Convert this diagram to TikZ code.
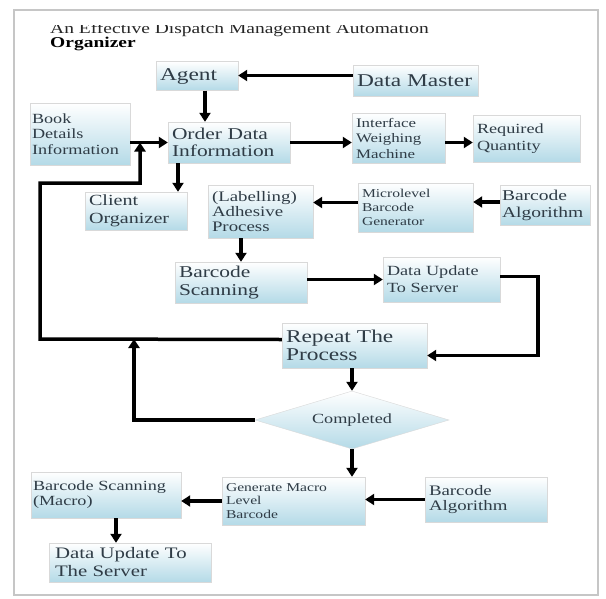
\documentclass[tikz,border=0pt]{standalone}
\usepackage{fontspec}
\setmainfont{Liberation Serif}[FakeStretch=1.3]
\usepackage{xcolor}
\usepackage{tikz}
\usetikzlibrary{arrows.meta,positioning,calc}
\usetikzlibrary{shapes.geometric}

\definecolor{boxblue}{RGB}{180,218,231}
\definecolor{boxtext}{RGB}{47,60,70}
\newcommand{\fsz}[2]{\fontsize{#1}{#2}\selectfont}

\tikzset{
	box/.style={rectangle, draw=gray!30, top color=white, bottom color=boxblue,
		align=left, inner xsep=4pt, inner ysep=2pt, text=boxtext},
	arr/.style={line width=3.5pt, -{Triangle[length=9pt,width=11pt]}},
	loopline/.style={line width=3.5pt}
}

\begin{document}
\begin{tikzpicture}[x=1pt,y=-1pt]
	\useasboundingbox (0,0) rectangle (606,598);
	\fill[white] (0,0) rectangle (606,598);
	\draw[gray!45, line width=1.2pt] (14,10) rectangle (598,595);
	% title, cut at the top
	\begin{scope}
		\clip (40,25) rectangle (480,40);
		\node[anchor=base west, inner sep=0pt, font=\fsz{15}{15}, text=black!85] (title) at (50,33) {An Effective Dispatch Management Automation};
	\end{scope}
	\node[anchor=base west, inner sep=0pt, font=\bfseries\fsz{15}{15}] (subtitle) at (50,47) {Organizer};
	% upper part
	\node[box, minimum width=82pt, minimum height=29pt, text width=74pt, font=\fsz{18}{20}] (agent) at (197,76) {Agent};
	\node[box, minimum width=125pt, minimum height=31pt, text width=117pt, font=\fsz{18}{20}] (master) at (415.5,80.5) {Data Master};
	\node[box, minimum width=100pt, minimum height=62pt, text width=96pt, inner xsep=2pt, font=\fsz{14}{15.5}] (book) at (80,134) {Book\\Details\\Information};
	\node[box, minimum width=122pt, minimum height=41pt, text width=114pt, font=\fsz{16.5}{17}] (order) at (229,142.5) {Order Data\\Information};
	\node[box, minimum width=93pt, minimum height=50pt, text width=85pt, font=\fsz{13}{15.5}] (iface) at (398.5,138) {Interface\\Weighing\\Machine};
	\node[box, minimum width=107pt, minimum height=47pt, text width=99pt, font=\fsz{14}{16.5}] (req) at (526.5,138.5) {Required\\Quantity};
	\node[box, minimum width=102pt, minimum height=38pt, text width=94pt, font=\fsz{15.5}{18}] (client) at (136,211) {Client\\Organizer};
	\node[box, minimum width=105pt, minimum height=53pt, text width=97pt, font=\fsz{14.5}{15}] (label) at (260.5,211.5) {(Labelling)\\Adhesive\\Process};
	\node[box, minimum width=115pt, minimum height=49pt, text width=107pt, font=\fsz{12}{14}] (micro) at (415.5,207.5) {Microlevel\\Barcode\\Generator};
	\node[box, minimum width=90pt, minimum height=40pt, text width=86pt, inner xsep=2pt, font=\fsz{15}{17}] (algtop) at (545,205) {Barcode\\Algorithm};
	\node[box, minimum width=132pt, minimum height=41pt, text width=124pt, font=\fsz{16.5}{18}] (scan) at (241,282.5) {Barcode\\Scanning};
	\node[box, minimum width=117pt, minimum height=45pt, text width=109pt, font=\fsz{14}{17}] (update) at (441.5,279.5) {Data Update\\To Server};
	\node[box, minimum width=145pt, minimum height=45pt, text width=137pt, font=\fsz{18}{18}] (repeat) at (354.5,345.5) {Repeat The\\Process};
	\node[diamond, aspect=3.3, draw=gray!30, top color=white, bottom color=boxblue, minimum width=194pt, minimum height=58pt, inner sep=0pt, text=boxtext, font=\fsz{14}{14}] (done) at (352,420) {Completed};
	% lower part
	\node[box, minimum width=143pt, minimum height=48pt, text width=135pt, font=\fsz{12}{13.5}] (macro) at (293.5,501) {Generate Macro\\Level\\Barcode};
	\node[box, minimum width=122pt, minimum height=45pt, text width=114pt, font=\fsz{14.5}{15}] (algbot) at (486,499.5) {Barcode\\Algorithm};
	\node[box, minimum width=150pt, minimum height=46pt, text width=146pt, inner xsep=2pt, font=\fsz{14}{15}] (scanmacro) at (106,495) {Barcode Scanning\\(Macro)};
	\node[box, minimum width=162pt, minimum height=39pt, text width=150pt, inner xsep=6pt, font=\fsz{16}{18}] (server) at (130,562.5) {Data Update To\\The Server};
	% loop back corners
	\coordinate (loopa) at (40,339);
	\coordinate (loopb) at (40,183);
	\coordinate (loopc) at (140,183);
	\coordinate (loopd) at (134,420);
	% connectors
	\draw[arr] ([yshift=5pt]master.west) -- ([yshift=5pt]master.west -| agent.east);
	\draw[arr] ([xshift=8pt]agent.south) -- ([xshift=8pt]agent.south |- order.north);
	\draw[arr] (book.east |- order.west) -- (order.west);
	\draw[arr] (order.east) -- (order.east -| iface.west);
	\draw[arr] (order.east -| iface.east) -- (order.east -| req.west);
	\draw[arr] ([xshift=-51pt]order.south) -- ([xshift=-51pt]order.south |- client.north);
	\draw[arr] ([yshift=3pt]algtop.west) -- ([yshift=3pt]algtop.west -| micro.east);
	\draw[arr] ([yshift=5pt]micro.west) -- ([yshift=5pt]micro.west -| label.east);
	\draw[arr] (label.south -| scan.north) -- (scan.north);
	\draw[arr] (scan.east |- update.west) -- (update.west);
	\draw[arr] ([yshift=3pt]update.east) -- ++(38,0) |- ([yshift=-10pt]repeat.east);
	\draw[arr] ([yshift=6pt]repeat.west) -- (loopa) -- (loopb) -- (loopc) -- (loopc |- order.west);
	\draw[arr] (repeat.south -| done.north) -- (done.north);
	\draw[arr] (done.west) -- (loopd) -- (loopd |- loopa);
	\draw[arr] (done.south) -- (done.south |- macro.north);
	\draw[arr] (algbot.west) -- (algbot.west -| macro.east);
	\draw[arr] (macro.west) -- (macro.west -| scanmacro.east);
	\draw[arr] ([xshift=10pt]scanmacro.south) -- ([xshift=10pt]scanmacro.south |- server.north);
\end{tikzpicture}
\end{document}
